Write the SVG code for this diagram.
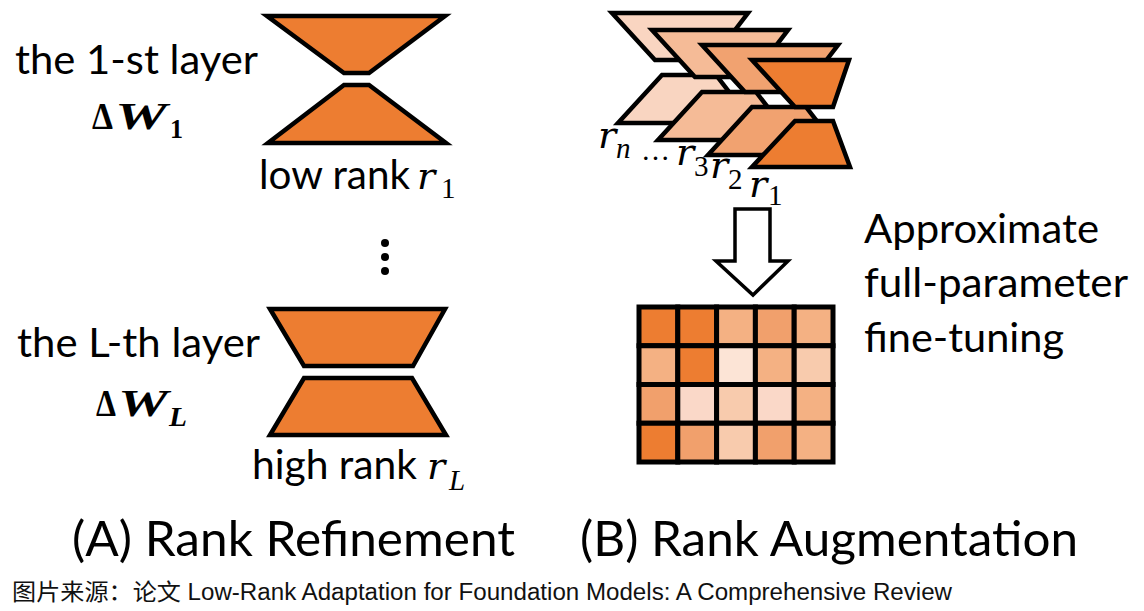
<svg xmlns="http://www.w3.org/2000/svg" width="1144" height="611" viewBox="0 0 1144 611">
<style>
.txt{font-family:Lato,"Liberation Sans",sans-serif;font-size:40px;fill:#000}
.title{font-family:Lato,"Liberation Sans",sans-serif;font-size:49px;fill:#000}
.mi{font-family:"DejaVu Serif",serif;font-style:italic;font-size:38px;fill:#000}
.sub{font-family:"Liberation Serif",serif;font-size:29px;fill:#000}
.mb{font-family:"Liberation Serif",serif;font-weight:bold;font-size:38px;fill:#000}
.mbi{font-family:"Liberation Serif",serif;font-weight:bold;font-style:italic;font-size:38px;fill:#000}
.mbs{font-family:"Liberation Serif",serif;font-weight:bold;font-size:27px;fill:#000}
.foot{font-family:"Liberation Sans","Noto Sans CJK SC",sans-serif;font-size:23px;fill:#111}
.sh{stroke:#000;stroke-width:4.5;stroke-linejoin:miter}
.g{stroke:#000;stroke-width:5}
</style>
<rect width="1144" height="611" fill="#fff"/>

<g id="layer-1">
<text class="txt" x="15" y="74" textLength="243" lengthAdjust="spacingAndGlyphs">the 1-st layer</text>
<text class="mb" x="92" y="129" textLength="21" lengthAdjust="spacingAndGlyphs">Δ</text>
<text class="mbi" x="115" y="129" textLength="52" lengthAdjust="spacingAndGlyphs">W</text>
<text class="mbs" x="170" y="138" textLength="13" lengthAdjust="spacingAndGlyphs">1</text>
<polygon class="sh" fill="#ED7D31" points="267,16 445,16 369,73 344,73"/>
<polygon class="sh" fill="#ED7D31" points="344,85 369,85 446,143 268,143"/>
<text class="txt" x="259" y="189" textLength="151" lengthAdjust="spacingAndGlyphs">low rank</text>
<text class="mi" x="417" y="189">r</text>
<text class="sub" x="441" y="198">1</text>
</g>

<g id="ellipsis">
<circle cx="385" cy="243" r="4"/>
<circle cx="385" cy="257" r="4"/>
<circle cx="385" cy="271" r="4"/>
</g>

<g id="layer-L">
<text class="txt" x="17" y="357" textLength="243" lengthAdjust="spacingAndGlyphs">the L-th layer</text>
<text class="mb" x="96" y="416" textLength="20" lengthAdjust="spacingAndGlyphs">Δ</text>
<text class="mbi" x="118" y="416" textLength="50" lengthAdjust="spacingAndGlyphs">W</text>
<text class="mbs" x="169" y="426" font-style="italic" textLength="18" lengthAdjust="spacingAndGlyphs">L</text>
<polygon class="sh" fill="#ED7D31" points="270,309 445,309 413,366 304,366"/>
<polygon class="sh" fill="#ED7D31" points="304,378 412,378 446,435 270,435"/>
<text class="txt" x="252" y="479" textLength="165" lengthAdjust="spacingAndGlyphs">high rank</text>
<text class="mi" x="427" y="479">r</text>
<text class="sub" x="449" y="490" font-style="italic">L</text>
</g>

<g id="rank-stack">
<g id="layer-rn">
<polygon class="sh" fill="#F9D5C1" points="612,13 748,13 712,60 655,60"/>
<polygon class="sh" fill="#F9D5C1" points="662,75 716,75 753,123 618,123"/>
</g>
<g id="layer-r3">
<polygon class="sh" fill="#F5BB97" points="652,30 788,30 752,77 695,77"/>
<polygon class="sh" fill="#F5BB97" points="702,92 756,92 793,140 658,140"/>
</g>
<g id="layer-r2">
<polygon class="sh" fill="#F1A270" points="702,45 838,45 802,92 745,92"/>
<polygon class="sh" fill="#F1A270" points="752,107 806,107 843,155 708,155"/>
</g>
<g id="layer-r1">
<polygon class="sh" fill="#ED7D31" points="752,60 849,60 833,107 795,107"/>
<polygon class="sh" fill="#ED7D31" points="795,121 833,121 850,167 752,167"/>
</g>
<text class="mi" x="598" y="148">r</text>
<text class="sub" x="616" y="158" font-style="italic">n</text>
<text class="sub" x="641" y="160">…</text>
<text class="mi" x="676" y="165">r</text>
<text class="sub" x="694" y="176">3</text>
<text class="mi" x="710" y="178">r</text>
<text class="sub" x="728" y="189">2</text>
<text class="mi" x="749" y="197">r</text>
<text class="sub" x="768" y="205">1</text>
</g>

<g id="connectors">
<polygon points="735,209 770,209 770,261 788,261 753,295 716,261 735,261" fill="#fff" stroke="#000" stroke-width="3.5" stroke-linejoin="miter"/>
</g>

<g id="full-matrix">
<rect class="g" x="639" y="307" width="38.8" height="38.75" fill="#ED7D31"/>
<rect class="g" x="677.8" y="307" width="38.8" height="38.75" fill="#ED7D31"/>
<rect class="g" x="716.6" y="307" width="38.8" height="38.75" fill="#F4B183"/>
<rect class="g" x="755.4" y="307" width="38.8" height="38.75" fill="#F1A06C"/>
<rect class="g" x="794.2" y="307" width="38.8" height="38.75" fill="#F4B183"/>
<rect class="g" x="639" y="345.75" width="38.8" height="38.75" fill="#F4B183"/>
<rect class="g" x="677.8" y="345.75" width="38.8" height="38.75" fill="#ED7D31"/>
<rect class="g" x="716.6" y="345.75" width="38.8" height="38.75" fill="#FCE4D6"/>
<rect class="g" x="755.4" y="345.75" width="38.8" height="38.75" fill="#F4B183"/>
<rect class="g" x="794.2" y="345.75" width="38.8" height="38.75" fill="#F8CBAD"/>
<rect class="g" x="639" y="384.5" width="38.8" height="38.75" fill="#F1A06C"/>
<rect class="g" x="677.8" y="384.5" width="38.8" height="38.75" fill="#FAD8C8"/>
<rect class="g" x="716.6" y="384.5" width="38.8" height="38.75" fill="#F8CBAD"/>
<rect class="g" x="755.4" y="384.5" width="38.8" height="38.75" fill="#FAD8C8"/>
<rect class="g" x="794.2" y="384.5" width="38.8" height="38.75" fill="#F4B183"/>
<rect class="g" x="639" y="423.25" width="38.8" height="38.75" fill="#ED7D31"/>
<rect class="g" x="677.8" y="423.25" width="38.8" height="38.75" fill="#F1A06C"/>
<rect class="g" x="716.6" y="423.25" width="38.8" height="38.75" fill="#F8CBAD"/>
<rect class="g" x="755.4" y="423.25" width="38.8" height="38.75" fill="#F1A06C"/>
<rect class="g" x="794.2" y="423.25" width="38.8" height="38.75" fill="#F4B183"/>
</g>

<g id="caption-b">
<text class="txt" x="864" y="243" textLength="235" lengthAdjust="spacingAndGlyphs">Approximate</text>
<text class="txt" x="864" y="297" textLength="264" lengthAdjust="spacingAndGlyphs">full-parameter</text>
<text class="txt" x="864" y="352" textLength="200" lengthAdjust="spacingAndGlyphs">fine-tuning</text>
</g>

<g id="titles">
<text class="title" x="72" y="556" textLength="443" lengthAdjust="spacingAndGlyphs">(A) Rank Refinement</text>
<text class="title" x="580" y="556" textLength="498" lengthAdjust="spacingAndGlyphs">(B) Rank Augmentation</text>
</g>

<g id="footer">
<text class="foot" x="12" y="600" textLength="940" lengthAdjust="spacingAndGlyphs">图片来源：论文 Low-Rank Adaptation for Foundation Models: A Comprehensive Review</text>
</g>
</svg>
